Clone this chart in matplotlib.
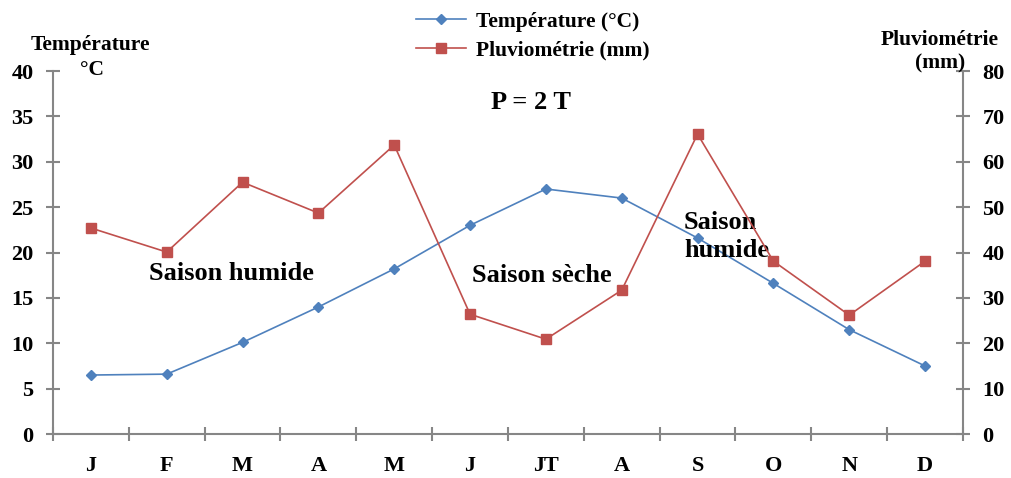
import matplotlib.pyplot as plt
from matplotlib.lines import Line2D

months = ['J', 'F', 'M', 'A', 'M', 'J', 'JT', 'A', 'S', 'O', 'N', 'D']
temperature = [6.5, 6.6, 10.1, 14.0, 18.2, 23.0, 27.0, 26.0, 21.6, 16.6, 11.5, 7.5]
pluviometrie = [45.4, 40.1, 55.5, 48.7, 63.7, 26.4, 20.9, 31.7, 66.1, 38.1, 26.2, 38.1]

blue = '#4F81BD'
red = '#C0504D'
grey = '#868686'

plt.rcParams['font.family'] = ['Liberation Serif', 'DejaVu Serif']
plt.rcParams['font.weight'] = 'bold'

fig = plt.figure(figsize=(10.11, 4.78), dpi=100)
ax = fig.add_axes([0.0524, 0.092, 0.9001, 0.7594])
ax2 = ax.twinx()

x = list(range(len(months)))
ax.plot(x, temperature, color=blue, lw=1.2, marker='D', ms=5, label='Température (°C)')
ax2.plot(x, pluviometrie, color=red, lw=1.2, marker='s', ms=7, label='Pluviométrie (mm)')

ax.set_xlim(-0.5, len(months) - 0.5)
ax.set_ylim(0, 40)
ax2.set_ylim(0, 80)
ax.set_yticks(range(0, 41, 5))
ax2.set_yticks(range(0, 81, 10))

# month labels centred, ticks on the boundaries between months
ax.set_xticks([i - 0.5 for i in range(len(months) + 1)])
ax.set_xticklabels([])
ax.set_xticks(x, minor=True)
ax.set_xticklabels(months, minor=True, fontsize=16, fontweight='bold')
ax.tick_params(axis='x', which='minor', length=0, pad=16)
ax.tick_params(axis='x', which='major', direction='inout', length=10, color=grey, width=1.5)
ax.tick_params(axis='y', direction='inout', length=10, color=grey, width=1.5, labelsize=16, pad=9)
ax2.tick_params(axis='y', direction='inout', length=10, color=grey, width=1.5, labelsize=16, pad=9)

for a in (ax, ax2):
    a.spines['top'].set_visible(False)
    for side in ('left', 'right', 'bottom'):
        a.spines[side].set_color(grey)
        a.spines[side].set_linewidth(1.5)
ax.spines['right'].set_visible(False)
ax2.spines['left'].set_visible(False)
ax2.spines['bottom'].set_visible(False)

for lab in ax.get_yticklabels() + ax2.get_yticklabels():
    lab.set_fontweight('bold')

# axis titles
fig.text(90 / 1011, 1 - 45 / 478, 'Température', ha='center', va='center', fontsize=15.5, fontweight='bold')
fig.text(92 / 1011, 1 - 70 / 478, '°C', ha='center', va='center', fontsize=15.5, fontweight='bold')
fig.text(940 / 1011, 1 - 40 / 478, 'Pluviométrie', ha='center', va='center', fontsize=15.5, fontweight='bold')
fig.text(940 / 1011, 1 - 63 / 478, '(mm)', ha='center', va='center', fontsize=15.5, fontweight='bold')

# annotations
ax.text(5.8, 36.5, 'P = 2 T', ha='center', va='center', fontsize=19, fontweight='bold')
ax.text(1.85, 17.7, 'Saison humide', ha='center', va='center', fontsize=19, fontweight='bold')
ax.text(5.95, 17.5, 'Saison sèche', ha='center', va='center', fontsize=19, fontweight='bold')
ax.text(7.82, 24.6, 'Saison\nhumide', ha='left', va='top', fontsize=19, fontweight='bold', linespacing=1.3)

handles = [
    Line2D([], [], color=blue, lw=1.2, marker='D', ms=5),
    Line2D([], [], color=red, lw=1.2, marker='s', ms=7),
]
fig.legend(handles, ['Température (°C)', 'Pluviométrie (mm)'], loc='center',
           bbox_to_anchor=(533 / 1011, 1 - 36 / 478), frameon=False,
           prop={'weight': 'bold', 'size': 15.5}, handlelength=2.3, labelspacing=0.4,
           borderpad=0, handletextpad=0.5)

fig.savefig('out.png', dpi=100)
